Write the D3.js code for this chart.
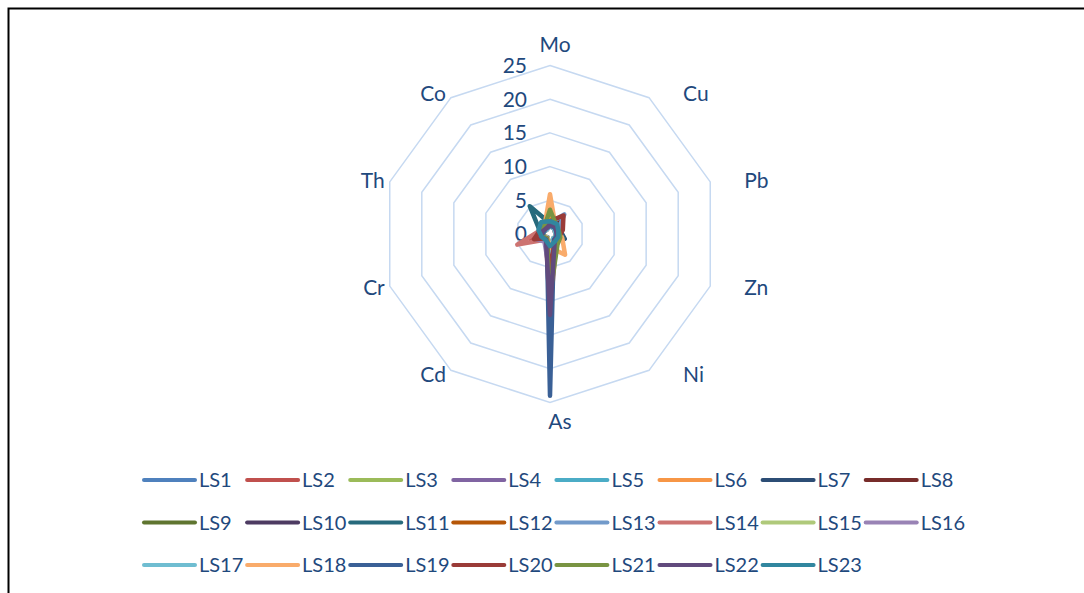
<!DOCTYPE html>
<html>
<head>
<meta charset="utf-8">
<script src="https://cdn.jsdelivr.net/npm/d3@7"></script>
<style>
  html, body { margin: 0; padding: 0; background: #fff; }
  svg { display: block; }
  text { font-family: Lato, "Liberation Sans", sans-serif; fill: #1F497D; }
</style>
</head>
<body>
<svg id="chart" width="1084" height="593"></svg>
<script>
// Elements on the radar axes, clockwise from the top
const elements = ["Mo", "Cu", "Pb", "Zn", "Ni", "As", "Cd", "Cr", "Th", "Co"];
const radialTicks = [0, 5, 10, 15, 20, 25];

// Values per sample, in the order of `elements`
const LS1  = [1.6, 2.0, 1.2, 1.4, 1.2, 9.0, 1.0, 1.4, 1.2, 1.2];
const LS2  = [1.4, 1.6, 1.0, 1.2, 1.0, 5.0, 0.8, 3.0, 1.4, 1.2];
const LS3  = [2.2, 1.4, 1.2, 1.6, 1.4, 7.0, 0.8, 1.2, 1.2, 1.0];
const LS4  = [1.2, 1.2, 0.8, 1.0, 1.0, 6.0, 1.0, 1.9, 1.0, 0.8];
const LS5  = [1.4, 1.2, 1.0, 1.0, 0.8, 4.0, 0.7, 1.2, 1.0, 1.0];
const LS6  = [2.6, 1.4, 1.2, 1.4, 1.6, 3.0, 0.7, 1.0, 1.0, 1.2];
const LS7  = [1.6, 2.6, 1.6, 2.3, 1.2, 8.0, 0.8, 1.2, 1.4, 1.6];
const LS8  = [1.2, 2.1, 1.2, 1.2, 1.0, 5.0, 0.7, 1.6, 1.6, 1.0];
const LS9  = [1.4, 1.2, 1.0, 1.4, 1.2, 6.0, 0.7, 1.4, 1.2, 1.0];
const LS10 = [1.2, 1.2, 1.0, 1.2, 1.0, 7.0, 0.8, 1.2, 1.2, 1.0];
const LS11 = [1.6, 1.6, 1.4, 2.1, 1.4, 9.0, 0.8, 1.4, 1.6, 5.1];
const LS12 = [1.2, 1.0, 0.8, 1.0, 0.8, 3.0, 0.6, 1.0, 1.0, 0.8];
const LS13 = [1.6, 3.6, 1.2, 1.2, 1.0, 4.0, 0.7, 1.2, 1.0, 1.0];
const LS14 = [1.4, 1.2, 1.0, 1.2, 1.6, 11.5, 1.0, 5.1, 1.6, 1.0];
const LS15 = [1.6, 1.2, 1.2, 1.4, 1.2, 5.0, 0.7, 1.2, 1.0, 1.0];
const LS16 = [1.2, 1.0, 0.8, 1.0, 1.0, 6.0, 1.4, 2.3, 1.2, 0.8];
const LS17 = [1.2, 1.0, 0.8, 1.0, 0.8, 3.0, 0.6, 1.2, 1.0, 0.8];
const LS18 = [5.9, 1.4, 1.4, 1.9, 3.8, 2.0, 0.7, 1.2, 1.2, 1.4];
const LS19 = [1.2, 1.2, 1.0, 1.0, 1.0, 24.0, 0.8, 1.2, 1.0, 1.0];
const LS20 = [1.9, 3.4, 2.0, 1.4, 1.2, 6.0, 0.8, 2.5, 1.6, 1.2];
const LS21 = [3.6, 1.6, 1.4, 1.6, 1.9, 9.0, 0.8, 1.2, 1.4, 1.4];
const LS22 = [1.4, 1.4, 1.0, 1.2, 1.2, 12.0, 1.0, 1.4, 1.2, 1.0];
const LS23 = [1.9, 1.8, 1.3, 1.3, 1.3, 1.8, 1.1, 1.3, 1.8, 2.2];

const seriesNames = ["LS1","LS2","LS3","LS4","LS5","LS6","LS7","LS8","LS9","LS10","LS11","LS12",
                     "LS13","LS14","LS15","LS16","LS17","LS18","LS19","LS20","LS21","LS22","LS23"];
const seriesValues = [LS1, LS2, LS3, LS4, LS5, LS6, LS7, LS8, LS9, LS10, LS11, LS12,
                      LS13, LS14, LS15, LS16, LS17, LS18, LS19, LS20, LS21, LS22, LS23];

const palette = ["#4F81BD","#C0504D","#9BBB59","#8064A2","#4BACC6","#F79646",
                 "#2C4D75","#772C2A","#5F7530","#4D3B62","#276A7C","#B65708",
                 "#729ACA","#CD7371","#AFC97A","#9983B5","#6FBDD1","#F9AB6B",
                 "#3A6096","#9A3B38","#799442","#614A7D","#31869F"];

const svg = d3.select("#chart");
const cx = 550, cy = 234, R = 168.5;

// Frame along the top and left edges
svg.append("path")
  .attr("d", "M8.5,593 V8.5 H1084")
  .attr("fill", "none")
  .attr("stroke", "#000")
  .attr("stroke-width", 2);

const r = d3.scaleLinear().domain([0, 25]).range([0, R]);
const angle = d3.scaleLinear().domain([0, elements.length]).range([0, 2 * Math.PI]);
const color = d3.scaleOrdinal().domain(seriesNames).range(palette);

const g = svg.append("g").attr("transform", `translate(${cx},${cy})`);

// Decagonal grid rings
const ringLine = d3.lineRadial()
  .angle((d, i) => angle(i))
  .radius(d => r(d))
  .curve(d3.curveLinearClosed);

g.append("g").selectAll("path")
  .data(radialTicks.filter(t => t > 0))
  .join("path")
  .attr("d", t => ringLine(elements.map(() => t)))
  .attr("fill", "none")
  .attr("stroke", "#C6D9F1")
  .attr("stroke-width", 1.5);

// Radial tick labels along the Mo axis
g.append("g").selectAll("text")
  .data(radialTicks)
  .join("text")
  .attr("x", -23)
  .attr("y", t => -r(t))
  .attr("dy", "0.35em")
  .attr("text-anchor", "end")
  .attr("font-size", 21)
  .text(t => t);

// Axis (element) labels outside the outer ring
g.append("g").selectAll("text")
  .data(elements)
  .join("text")
  .each(function(name, i) {
    const a = angle(i);
    const vx = R * Math.sin(a), vy = -R * Math.cos(a);
    const sel = d3.select(this);
    if (i === 0) {
      sel.attr("x", vx + 5).attr("y", vy - 21).attr("text-anchor", "middle");
    } else if (i === elements.length / 2) {
      sel.attr("x", vx + 10).attr("y", vy + 19).attr("text-anchor", "middle");
    } else if (Math.sin(a) > 0) {
      sel.attr("x", vx + 34).attr("y", vy - 5 * Math.cos(a)).attr("text-anchor", "start");
    } else {
      sel.attr("x", vx - 5).attr("y", vy - 5 * Math.cos(a)).attr("text-anchor", "end");
    }
  })
  .attr("dy", "0.35em")
  .attr("font-size", 21)
  .text(d => d);

// Series polygons
const seriesLine = d3.lineRadial()
  .angle((d, i) => angle(i))
  .radius(d => r(d))
  .curve(d3.curveLinearClosed);

g.append("g").selectAll("path")
  .data(seriesNames)
  .join("path")
  .attr("d", (name, k) => seriesLine(seriesValues[k]))
  .attr("fill", "none")
  .attr("stroke", name => color(name))
  .attr("stroke-width", 4.5)
  .attr("stroke-linejoin", "round")
  .attr("stroke-linecap", "round");

// Legend: 3 rows of 8
const legend = svg.append("g");
const colStep = 103.1, rowStep = 42.5, x0 = 144, y0 = 480;
const items = legend.selectAll("g")
  .data(seriesNames)
  .join("g")
  .attr("transform", (d, i) => `translate(${x0 + (i % 8) * colStep},${y0 + Math.floor(i / 8) * rowStep})`);
items.append("line")
  .attr("x1", 0).attr("x2", 51)
  .attr("stroke", d => color(d))
  .attr("stroke-width", 4)
  .attr("stroke-linecap", "round");
items.append("text")
  .attr("x", 55)
  .attr("dy", "0.35em")
  .attr("font-size", 20)
  .text(d => d);
</script>
</body>
</html>
